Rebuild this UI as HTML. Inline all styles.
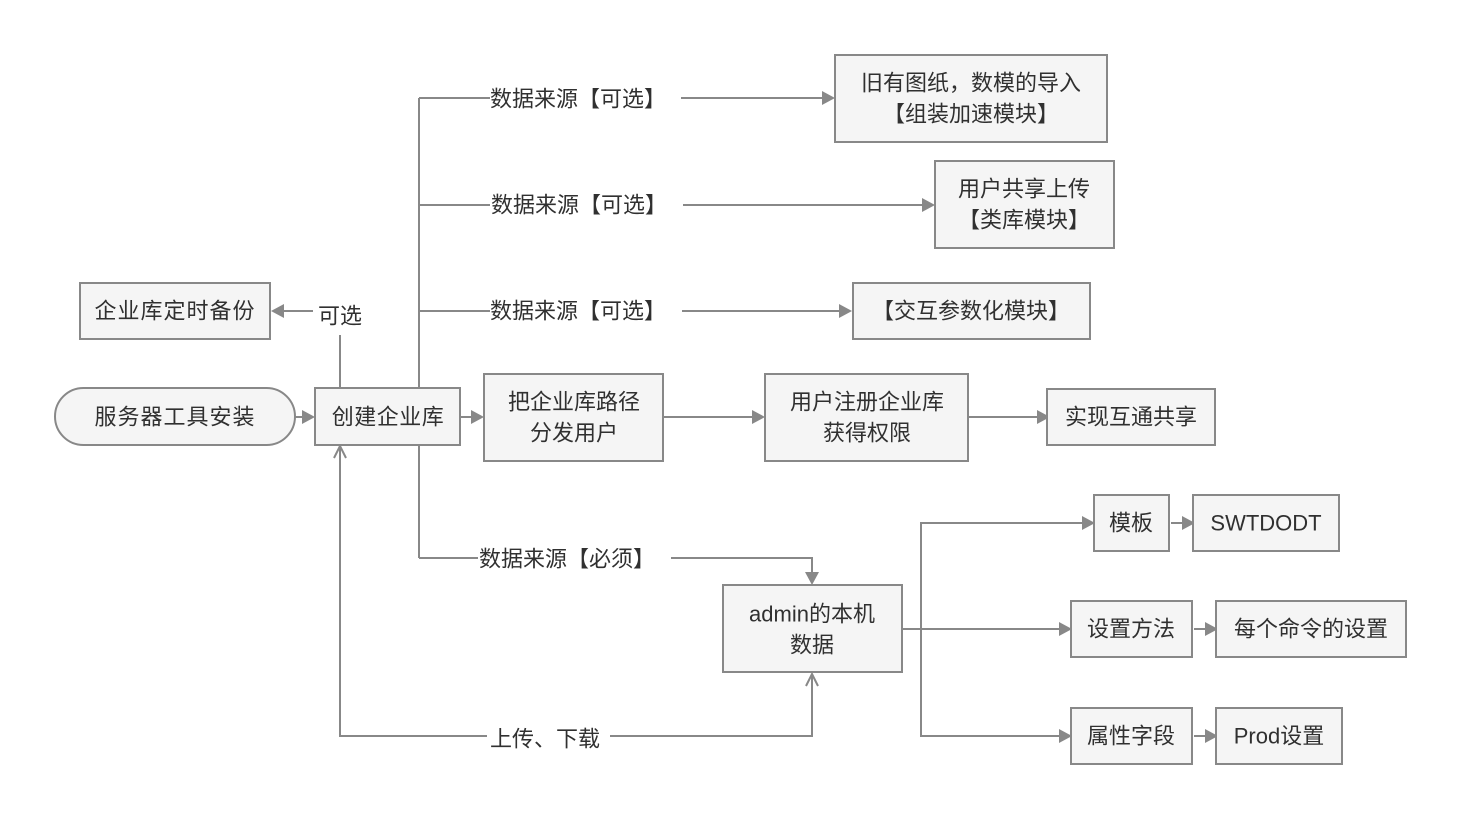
<!DOCTYPE html>
<html>
<head>
<meta charset="utf-8">
<style>
  html, body { margin: 0; padding: 0; background: #ffffff; }
  svg { display: block; }
  text { font-family: "Liberation Sans", "Noto Sans CJK SC", sans-serif; font-size: 22px; fill: #303030; }
</style>
</head>
<body>
<svg width="1461" height="819" viewBox="0 0 1461 819" xmlns="http://www.w3.org/2000/svg">
  <rect width="1461" height="819" fill="#ffffff"/>
  <g fill="none" stroke="#888888" stroke-width="2">
    <!-- main row connectors -->
    <line x1="295" y1="417" x2="303" y2="417"/>
    <line x1="460" y1="417" x2="473" y2="417"/>
    <line x1="664" y1="417" x2="754" y2="417"/>
    <line x1="969" y1="417" x2="1039" y2="417"/>
    <!-- 可选 -->
    <polyline points="340,387 340,335"/>
    <line x1="313" y1="311" x2="282" y2="311"/>
    <!-- trunk -->
    <line x1="419" y1="98" x2="419" y2="558"/>
    <line x1="419" y1="98" x2="490" y2="98"/>
    <line x1="681" y1="98" x2="824" y2="98"/>
    <line x1="419" y1="205" x2="490" y2="205"/>
    <line x1="683" y1="205" x2="924" y2="205"/>
    <line x1="419" y1="311" x2="490" y2="311"/>
    <line x1="682" y1="311" x2="841" y2="311"/>
    <line x1="419" y1="558" x2="478" y2="558"/>
    <polyline points="671,558 812,558 812,574"/>
    <!-- bottom upload/download -->
    <polyline points="487,736 340,736 340,446"/>
    <polyline points="610,736 812,736 812,674"/>
    <polyline points="334,458 340,446 346,458"/>
    <polyline points="806,686 812,674 818,686"/>
    <!-- admin trunk -->
    <line x1="903" y1="629" x2="921" y2="629"/>
    <polyline points="1084,523 921,523 921,736 1061,736"/>
    <line x1="921" y1="629" x2="1061" y2="629"/>
    <line x1="1171" y1="523" x2="1184" y2="523"/>
    <line x1="1194" y1="629" x2="1207" y2="629"/>
    <line x1="1194" y1="736" x2="1207" y2="736"/>
  </g>
  <g fill="#888888" stroke="none">
    <polygon points="315,417 302,410 302,424"/>
    <polygon points="484,417 471,410 471,424"/>
    <polygon points="765,417 752,410 752,424"/>
    <polygon points="1050,417 1037,410 1037,424"/>
    <polygon points="271,311 284,304 284,318"/>
    <polygon points="835,98 822,91 822,105"/>
    <polygon points="935,205 922,198 922,212"/>
    <polygon points="852,311 839,304 839,318"/>
    <polygon points="812,585 805,572 819,572"/>
    <polygon points="1095,523 1082,516 1082,530"/>
    <polygon points="1072,629 1059,622 1059,636"/>
    <polygon points="1072,736 1059,729 1059,743"/>
    <polygon points="1195,523 1182,516 1182,530"/>
    <polygon points="1218,629 1205,622 1205,636"/>
    <polygon points="1218,736 1205,729 1205,743"/>
  </g>
  <g fill="#f5f5f5" stroke="#888888" stroke-width="2">
    <rect x="55" y="388" width="240" height="57" rx="28.5" ry="28.5"/>
    <rect x="315" y="388" width="145" height="57"/>
    <rect x="80" y="283" width="190" height="56"/>
    <rect x="835" y="55" width="272" height="87"/>
    <rect x="935" y="161" width="179" height="87"/>
    <rect x="853" y="283" width="237" height="56"/>
    <rect x="484" y="374" width="179" height="87"/>
    <rect x="765" y="374" width="203" height="87"/>
    <rect x="1047" y="389" width="168" height="56"/>
    <rect x="723" y="585" width="179" height="87"/>
    <rect x="1094" y="495" width="75" height="56"/>
    <rect x="1193" y="495" width="146" height="56"/>
    <rect x="1071" y="601" width="121" height="56"/>
    <rect x="1216" y="601" width="190" height="56"/>
    <rect x="1071" y="708" width="121" height="56"/>
    <rect x="1216" y="708" width="126" height="56"/>
  </g>
  <g text-anchor="middle" dominant-baseline="central">
    <text x="175" y="417" letter-spacing="1">服务器工具安装</text>
    <text x="388" y="417" letter-spacing="0.5">创建企业库</text>
    <text x="175" y="311" letter-spacing="1">企业库定时备份</text>
    <text x="340" y="316">可选</text>
    <text x="578" y="99">数据来源【可选】</text>
    <text x="579" y="205">数据来源【可选】</text>
    <text x="578" y="311">数据来源【可选】</text>
    <text x="567" y="559">数据来源【必须】</text>
    <text x="545" y="739">上传、下载</text>
    <text x="971" y="83">旧有图纸，数模的导入</text>
    <text x="971" y="114">【组装加速模块】</text>
    <text x="1024" y="189">用户共享上传</text>
    <text x="1024" y="220">【类库模块】</text>
    <text x="971" y="311">【交互参数化模块】</text>
    <text x="574" y="402">把企业库路径</text>
    <text x="574" y="433">分发用户</text>
    <text x="867" y="402">用户注册企业库</text>
    <text x="867" y="433">获得权限</text>
    <text x="1131" y="417">实现互通共享</text>
    <text x="812" y="614">admin的本机</text>
    <text x="812" y="645">数据</text>
    <text x="1131" y="523">模板</text>
    <text x="1266" y="523">SWTDODT</text>
    <text x="1131" y="629">设置方法</text>
    <text x="1311" y="629">每个命令的设置</text>
    <text x="1131" y="736">属性字段</text>
    <text x="1279" y="736">Prod设置</text>
  </g>
</svg>
</body>
</html>
